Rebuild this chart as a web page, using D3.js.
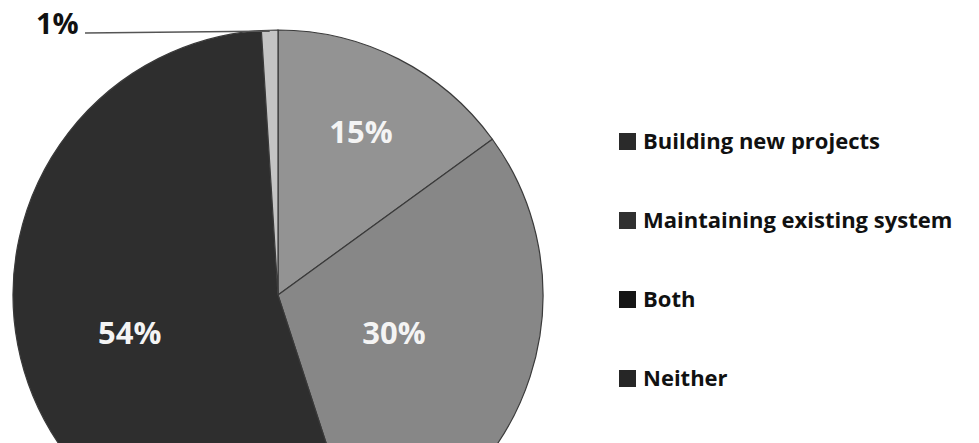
<!DOCTYPE html>
<html>
<head>
<meta charset="utf-8">
<script src="https://cdn.jsdelivr.net/npm/d3@7"></script>
<style>
  body { margin: 0; background: #fff; }
  svg { display: block; }
  text { font-family: "Open Sans", Lato, sans-serif; font-weight: bold; }
</style>
</head>
<body>
<div class="chart"></div>
<script>
// chart data
var categories = ["Building new projects", "Maintaining existing system", "Both", "Neither"];
var shares = [15, 30, 54, 1];
var shareLabels = ["15%", "30%", "54%", "1%"];

window.addEventListener("load", function(){
  var width = 979, height = 443;
  var cx = 278, cy = 295, radius = 265;

  var sliceColors = ["#939393", "#878787", "#2e2e2e", "#c4c4c4"];
  var legendColors = ["#2a2a2a", "#303030", "#151515", "#262626"];
  // how far out each inside label sits, as a part of the radius
  var labelRadius = [0.69, 0.46, 0.57];

  var svg = d3.select(".chart").append("svg")
    .attr("width", width)
    .attr("height", height);

  var pie = d3.pie().sort(null).value(function(d) { return d; });
  var arcs = pie(shares);

  var arc = d3.arc().innerRadius(0).outerRadius(radius);

  var g = svg.append("g").attr("transform", "translate(" + cx + "," + cy + ")");

  g.selectAll("path")
    .data(arcs)
    .enter().append("path")
    .attr("d", arc)
    .attr("fill", function(d, i) { return sliceColors[i]; })
    .attr("stroke", "#3a3a3a")
    .attr("stroke-width", 1.2);

  // labels inside the big slices
  g.selectAll("text.inside")
    .data(arcs.slice(0, 3))
    .enter().append("text")
    .attr("class", "inside")
    .attr("text-anchor", "middle")
    .attr("dy", "0.35em")
    .attr("fill", "#f4f4f4")
    .style("font-size", "31px")
    .attr("transform", function(d, i) {
      var a = (d.startAngle + d.endAngle) / 2;
      var r = radius * labelRadius[i];
      return "translate(" + (Math.sin(a) * r) + "," + (-Math.cos(a) * r + (i == 2 ? 10 : 0)) + ")";
    })
    .text(function(d, i) { return shareLabels[i]; });

  // the 1% slice gets a leader line out to the left
  var small = arcs[3];
  var a = (small.startAngle + small.endAngle) / 2;
  var tipX = cx + Math.sin(a) * radius;
  var tipY = cy - Math.cos(a) * radius;

  svg.append("line")
    .attr("x1", 85).attr("y1", 33)
    .attr("x2", tipX).attr("y2", tipY + 1)
    .attr("stroke", "#555")
    .attr("stroke-width", 1.5);

  svg.append("text")
    .attr("x", 36)
    .attr("y", 34)
    .attr("fill", "#111")
    .style("font-size", "29px")
    .text(shareLabels[3]);

  // legend
  var legend = svg.append("g")
    .attr("transform", "translate(619,141)");

  var item = legend.selectAll("g")
    .data(categories)
    .enter().append("g")
    .attr("transform", function(d, i) { return "translate(0," + (i * 79) + ")"; });

  item.append("rect")
    .attr("x", 0)
    .attr("y", -8)
    .attr("width", 17)
    .attr("height", 17)
    .attr("fill", function(d, i) { return legendColors[i]; });

  item.append("text")
    .attr("x", 24)
    .attr("dy", "0.36em")
    .attr("fill", "#111")
    .style("font-size", "22px")
    .text(function(d) { return d; });
});
</script>
</body>
</html>
